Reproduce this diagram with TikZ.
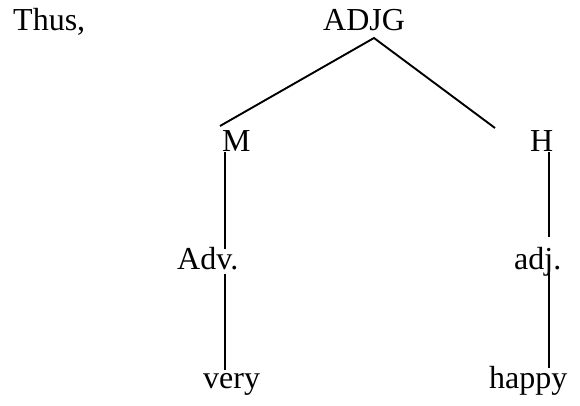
\documentclass[tikz,border=0pt]{standalone}
\usepackage{fontspec}
\setmainfont{Liberation Serif}
\begin{document}
\begin{tikzpicture}[x=1pt,y=-1pt,
  lbl/.style={inner sep=0pt,anchor=base west,font=\fontsize{32}{38}\selectfont},
  branch/.style={line width=1.9pt}]
\useasboundingbox (0,0) rectangle (580,405);
\node[lbl] (thus) at (13,30) {Thus,};
\node[lbl] (adjg) at (323,30) {ADJG};
\node[lbl] (m) at (222,151) {M};
\node[lbl] (h) at (530,151) {H};
\node[lbl] (adv) at (177,269) {Adv.};
\node[lbl] (adj) at (514,269) {adj.};
\node[lbl] (very) at (203,388) {very};
\node[lbl] (happy) at (489,388) {happy};
\coordinate (apex) at (374,38);
\coordinate (mtop) at (220,126);
\coordinate (htop) at (495,128);
\coordinate (mbot) at (225,152);
\coordinate (advtop) at (225,249);
\coordinate (advbot) at (225,274);
\coordinate (verytop) at (225,370);
\coordinate (hbot) at (549,152);
\coordinate (adjtop) at (549,237);
\coordinate (adjbot) at (549,271);
\coordinate (happytop) at (549,368);
\draw[branch] (mtop) -- (apex) -- (htop);
\draw[branch] (mbot) -- (advtop);
\draw[branch] (advbot) -- (verytop);
\draw[branch] (hbot) -- (adjtop);
\draw[branch] (adjbot) -- (happytop);
\end{tikzpicture}
\end{document}
